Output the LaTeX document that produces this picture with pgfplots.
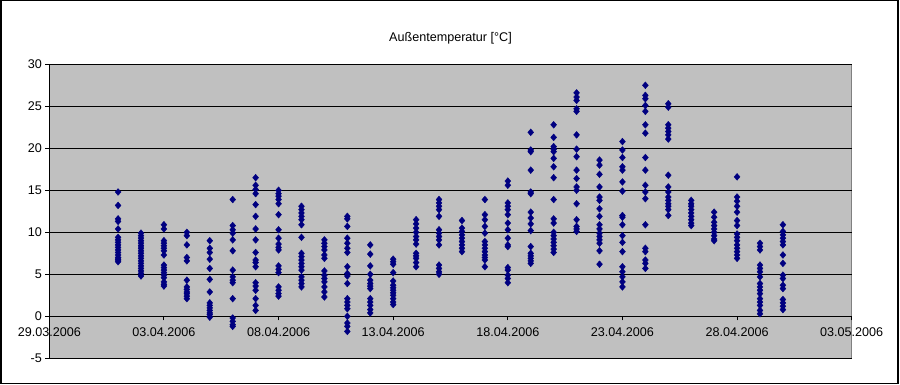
\documentclass[border=0pt]{standalone}
\usepackage{fontspec}
\setmainfont{Liberation Sans}
\usepackage{pgfplots}
\usepackage{pgfplotstable}
\pgfplotsset{compat=1.18}
\definecolor{plotgray}{RGB}{192,192,192}
\definecolor{framegray}{RGB}{128,128,128}
\definecolor{navyblue}{RGB}{0,0,128}
\pgfplotstableread[row sep=\\]{
x y\\
3 14.8\\ 3 13.2\\ 3 11.6\\ 3 11.3\\ 3 10.4\\ 3 9.4\\ 3 9.1\\ 3 8.8\\ 3 8.5\\ 3 8.2\\ 3 7.9\\ 3 7.6\\ 3 7.3\\ 3 7.0\\ 3 6.8\\ 3 6.7\\ 3 6.5\\
4 9.9\\ 4 9.6\\ 4 9.3\\ 4 9.0\\ 4 8.7\\ 4 8.4\\ 4 8.1\\ 4 7.8\\ 4 7.5\\ 4 7.2\\ 4 6.9\\ 4 6.6\\ 4 6.3\\ 4 6.0\\ 4 5.7\\ 4 5.4\\ 4 5.1\\ 4 4.8\\
5 10.9\\ 5 10.4\\ 5 9.0\\ 5 8.7\\ 5 8.4\\ 5 8.1\\ 5 7.8\\ 5 7.3\\ 5 6.1\\ 5 5.8\\ 5 5.5\\ 5 5.2\\ 5 4.9\\ 5 4.6\\ 5 4.1\\ 5 3.8\\ 5 3.6\\
6 10.0\\ 6 9.6\\ 6 8.5\\ 6 7.0\\ 6 6.6\\ 6 4.3\\ 6 3.5\\ 6 3.2\\ 6 2.9\\ 6 2.7\\ 6 2.4\\ 6 2.1\\
7 9.0\\ 7 8.1\\ 7 7.6\\ 7 6.8\\ 7 5.7\\ 7 4.4\\ 7 2.9\\ 7 1.6\\ 7 1.3\\ 7 1.0\\ 7 0.7\\ 7 0.4\\ 7 0.2\\ 7 -0.1\\
8 13.9\\ 8 10.8\\ 8 10.3\\ 8 9.9\\ 8 9.1\\ 8 7.8\\ 8 5.5\\ 8 4.7\\ 8 4.3\\ 8 4.0\\ 8 2.1\\ 8 -0.2\\ 8 -0.6\\ 8 -1.0\\ 8 -1.2\\
9 16.5\\ 9 15.6\\ 9 15.1\\ 9 14.6\\ 9 13.3\\ 9 11.9\\ 9 10.4\\ 9 9.1\\ 9 7.6\\ 9 6.7\\ 9 6.4\\ 9 5.9\\ 9 4.0\\ 9 3.6\\ 9 3.1\\ 9 2.1\\ 9 1.3\\ 9 0.7\\
10 15.0\\ 10 14.6\\ 10 14.3\\ 10 13.9\\ 10 13.4\\ 10 12.1\\ 10 10.3\\ 10 9.3\\ 10 8.6\\ 10 8.2\\ 10 7.9\\ 10 6.0\\ 10 5.6\\ 10 5.2\\ 10 3.5\\ 10 3.1\\ 10 2.7\\ 10 2.4\\
11 13.1\\ 11 12.7\\ 11 12.3\\ 11 11.9\\ 11 11.5\\ 11 10.9\\ 11 9.4\\ 11 7.5\\ 11 7.1\\ 11 6.7\\ 11 6.3\\ 11 5.9\\ 11 5.5\\ 11 4.7\\ 11 4.3\\ 11 3.9\\ 11 3.5\\
12 9.1\\ 12 8.7\\ 12 8.3\\ 12 7.9\\ 12 7.3\\ 12 6.9\\ 12 5.4\\ 12 4.9\\ 12 4.5\\ 12 4.1\\ 12 3.5\\ 12 2.9\\ 12 2.3\\
13 11.9\\ 13 11.6\\ 13 10.7\\ 13 9.3\\ 13 8.7\\ 13 8.1\\ 13 7.6\\ 13 5.9\\ 13 5.1\\ 13 4.8\\ 13 3.9\\ 13 2.1\\ 13 1.7\\ 13 1.3\\ 13 0.9\\ 13 0.0\\ 13 -0.8\\ 13 -1.2\\ 13 -1.8\\
14 8.5\\ 14 7.4\\ 14 6.0\\ 14 5.0\\ 14 4.3\\ 14 3.9\\ 14 3.6\\ 14 3.3\\ 14 2.1\\ 14 1.7\\ 14 1.3\\ 14 0.8\\ 14 0.4\\
15 6.8\\ 15 6.5\\ 15 6.2\\ 15 5.2\\ 15 4.2\\ 15 3.7\\ 15 3.4\\ 15 3.1\\ 15 2.8\\ 15 2.5\\ 15 2.1\\ 15 1.7\\ 15 1.4\\
16 11.5\\ 16 11.0\\ 16 10.5\\ 16 10.0\\ 16 9.5\\ 16 9.1\\ 16 8.6\\ 16 7.5\\ 16 7.2\\ 16 6.9\\ 16 6.4\\ 16 5.9\\
17 13.9\\ 17 13.5\\ 17 13.1\\ 17 12.7\\ 17 11.9\\ 17 10.3\\ 17 9.9\\ 17 9.5\\ 17 9.1\\ 17 8.5\\ 17 6.1\\ 17 5.7\\ 17 5.3\\ 17 5.0\\
18 11.4\\ 18 10.5\\ 18 10.1\\ 18 9.7\\ 18 9.3\\ 18 8.9\\ 18 8.5\\ 18 8.1\\ 18 7.7\\
19 13.9\\ 19 12.1\\ 19 11.5\\ 19 10.7\\ 19 9.9\\ 19 8.9\\ 19 8.5\\ 19 8.1\\ 19 7.7\\ 19 7.3\\ 19 7.0\\ 19 6.7\\ 19 5.9\\
20 16.1\\ 20 15.6\\ 20 13.5\\ 20 13.1\\ 20 12.7\\ 20 12.1\\ 20 11.1\\ 20 10.3\\ 20 9.3\\ 20 8.5\\ 20 8.3\\ 20 5.8\\ 20 5.5\\ 20 4.9\\ 20 4.5\\ 20 4.0\\
21 21.9\\ 21 19.8\\ 21 19.6\\ 21 17.4\\ 21 14.8\\ 21 14.6\\ 21 12.4\\ 21 11.7\\ 21 11.0\\ 21 10.2\\ 21 8.3\\ 21 7.5\\ 21 7.2\\ 21 6.9\\ 21 6.6\\ 21 6.3\\
22 22.8\\ 22 21.3\\ 22 20.2\\ 22 19.9\\ 22 19.6\\ 22 18.8\\ 22 17.8\\ 22 16.5\\ 22 13.9\\ 22 11.6\\ 22 11.1\\ 22 10.0\\ 22 9.6\\ 22 9.2\\ 22 8.8\\ 22 8.4\\ 22 8.0\\ 22 7.6\\
23 26.6\\ 23 26.1\\ 23 25.7\\ 23 24.7\\ 23 24.4\\ 23 21.6\\ 23 19.9\\ 23 19.0\\ 23 17.4\\ 23 16.4\\ 23 15.4\\ 23 15.0\\ 23 13.4\\ 23 11.5\\ 23 10.7\\ 23 10.4\\ 23 10.1\\
24 18.6\\ 24 18.0\\ 24 16.9\\ 24 15.4\\ 24 14.2\\ 24 13.8\\ 24 12.8\\ 24 11.9\\ 24 10.9\\ 24 10.4\\ 24 9.9\\ 24 9.5\\ 24 9.1\\ 24 8.7\\ 24 7.8\\ 24 6.2\\
25 20.8\\ 25 19.8\\ 25 18.9\\ 25 17.8\\ 25 17.4\\ 25 16.0\\ 25 14.9\\ 25 12.0\\ 25 11.8\\ 25 10.9\\ 25 9.6\\ 25 8.8\\ 25 7.7\\ 25 5.9\\ 25 5.3\\ 25 4.7\\ 25 4.1\\ 25 3.5\\
26 27.5\\ 26 26.3\\ 26 25.9\\ 26 25.1\\ 26 24.4\\ 26 22.8\\ 26 21.8\\ 26 18.9\\ 26 17.4\\ 26 15.6\\ 26 14.8\\ 26 14.0\\ 26 10.9\\ 26 8.1\\ 26 7.7\\ 26 6.7\\ 26 6.3\\ 26 5.7\\
27 25.3\\ 27 24.9\\ 27 22.8\\ 27 22.4\\ 27 22.0\\ 27 21.6\\ 27 21.1\\ 27 16.8\\ 27 15.4\\ 27 14.8\\ 27 14.2\\ 27 13.8\\ 27 13.4\\ 27 13.1\\ 27 12.7\\ 27 12.0\\
28 13.8\\ 28 13.4\\ 28 13.1\\ 28 12.7\\ 28 12.3\\ 28 11.9\\ 28 11.5\\ 28 11.1\\ 28 10.8\\
29 12.4\\ 29 11.8\\ 29 11.2\\ 29 10.8\\ 29 10.4\\ 29 10.0\\ 29 9.6\\ 29 9.2\\ 29 9.0\\
30 16.6\\ 30 14.2\\ 30 13.7\\ 30 13.1\\ 30 12.4\\ 30 11.4\\ 30 10.8\\ 30 9.8\\ 30 9.4\\ 30 9.0\\ 30 8.5\\ 30 8.1\\ 30 7.7\\ 30 7.3\\ 30 6.9\\
31 8.7\\ 31 8.3\\ 31 7.9\\ 31 6.1\\ 31 5.7\\ 31 5.3\\ 31 4.7\\ 31 3.9\\ 31 3.5\\ 31 3.1\\ 31 2.7\\ 31 2.1\\ 31 1.7\\ 31 1.3\\ 31 0.7\\ 31 0.3\\
32 10.9\\ 32 10.1\\ 32 9.7\\ 32 9.3\\ 32 8.9\\ 32 8.5\\ 32 7.3\\ 32 6.3\\ 32 4.9\\ 32 4.5\\ 32 3.7\\ 32 3.3\\ 32 2.0\\ 32 1.6\\ 32 1.2\\ 32 0.8\\
}\tempdata
\begin{document}
\begin{tikzpicture}[x=1pt,y=1pt]
\useasboundingbox (0,0) rectangle (900,384);
\fill[white] (0,0) rectangle (900,384);
\draw[line width=1.5pt] (0.75,0.75) rectangle (898,383.25);
\begin{axis}[
  at={(49.3pt,25.7pt)}, anchor=south west,
  scale only axis, width=802.4pt, height=294pt,
  xmin=0, xmax=35, ymin=-5, ymax=30,
  axis background/.style={fill=plotgray, draw=framegray, line width=1pt},
  axis x line=middle, axis y line=left,
  axis line style={-, black, line width=1pt},
  hide obscured x ticks=false, hide obscured y ticks=false,
  xtick={0,5,...,35},
  xticklabels={29.03.2006,03.04.2006,08.04.2006,13.04.2006,18.04.2006,23.04.2006,28.04.2006,03.05.2006},
  ytick={-5,0,...,30},
  yticklabels={-5,0,5,10,15,20,25,30},
  ymajorgrids, grid style={black, line width=1pt},
  tick align=outside, major tick length=4pt,
  tick style={black, line width=1pt},
  every tick label/.append style={font=\fontsize{12.6}{15}\selectfont},
  xticklabel style={anchor=north, yshift=-4pt},
  yticklabel style={anchor=east},
  title={Außentemperatur [°C]},
  title style={at={(0.5,1)}, anchor=center, yshift=20.3pt, font=\fontsize{12.6}{15}\selectfont},
]
\addplot[only marks, mark=diamond*, mark size=3.4pt, color=navyblue, mark options={xscale=1.15, fill=navyblue, draw=navyblue}] table[x=x, y=y] {\tempdata};
\end{axis}
\end{tikzpicture}
\end{document}
